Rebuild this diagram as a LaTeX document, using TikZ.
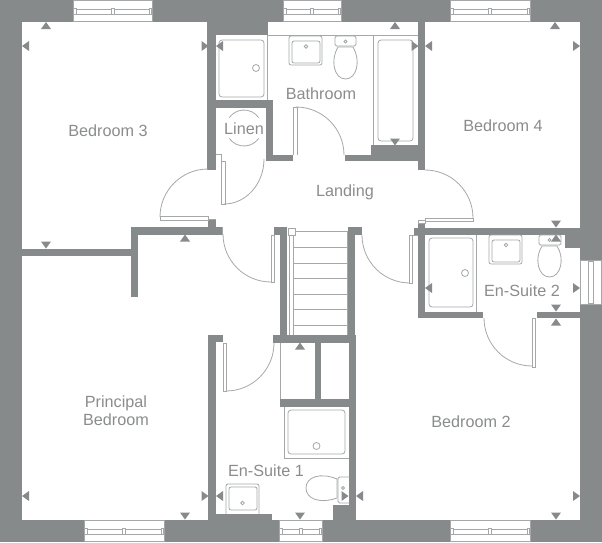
\documentclass[tikz,border=0pt]{standalone}
\usepackage{fontspec}
\setmainfont{Liberation Sans}
\definecolor{myw}{RGB}{135, 138, 139}
\definecolor{myl}{RGB}{165, 167, 168}
\definecolor{myt}{RGB}{138, 140, 141}
\tikzset{
	wall/.style={fill=myw,draw=none},
	thin line/.style={draw=myl,line width=.8pt},
	roomlabel/.style={font=\fontsize{16.2}{17.5}\selectfont,text=myt,align=center,inner sep=0pt},
	glass/.style={fill=white,draw=myl,line width=.8pt}
}
\begin{document}
\begin{tikzpicture}[x=1pt,y=-1pt]
			\useasboundingbox (0,0) rectangle (602,542);
			% outer walls
			\fill[wall] (0,0) rectangle (602,22);
			\fill[wall] (0,0) rectangle (22,542);
			\fill[wall] (580,0) rectangle (602,542);
			\fill[wall] (0,520) rectangle (602,542);
			\fill[wall] (207,22) rectangle (268,35);
			% inner walls
			\foreach \xa/\ya/\xb/\yb in {
				207/35/216/170, 207/100/273/108, 266/100/273/161, 266/155/293/161,
				345/155/425/161, 371/145/425/161, 418/22/425/170,
				22/249/131/256, 131/227/222/235, 131/227/138/297, 208/219/216/235,
				274/227/287/235, 280/227/287/342, 348/227/362/235, 348/227/355/342,
				273/335/356/343, 315/343/321/400, 280/399/356/407, 349/343/356/520,
				208/335/216/520, 208/335/223/342, 208/514/272/520, 333/505/356/520,
				414/228/580/235, 418/223/425/318, 565/228/580/248, 418/312/483/318, 537/312/580/318
			}
				\fill[wall] (\xa,\ya) rectangle (\xb,\yb);
			% windows
			\foreach \xa/\xb/\ya in {73/152/0, 283/341/0, 450/530/0, 84/164/520, 279/322/520, 450/530/520} {
				\path[glass] (\xa,\ya+.5) rectangle (\xb,\ya+21.5);
				\draw[thin line] (\xa+2,\ya+9) rectangle (\xb-2,\ya+14);
				\draw[thin line,fill=white] (\xa+.5,\ya+8.5) rectangle (\xa+3,\ya+14.5);
				\draw[thin line,fill=white] ({(\xa+\xb)/2-1.5},\ya+8.5) rectangle ({(\xa+\xb)/2+1.5},\ya+14.5);
				\draw[thin line,fill=white] (\xb-3,\ya+8.5) rectangle (\xb-.5,\ya+14.5);
			}
			\path[glass] (580.5,260) rectangle (601.5,304);
			\draw[thin line] (588,261) rectangle (593,303);
			% doors
			\draw[thin line] (160,217) arc[start angle=180,end angle=90,radius=48pt];
			\draw[thin line] (160,216) rectangle (208,220) (208,219) -- (216,219);
			\draw[thin line] (224,204) arc[start angle=270,end angle=360,x radius=40pt,y radius=45pt];
			\draw[thin line] (221,161) rectangle (225,204) (216,154) -- (221,154) -- (221,161);
			\draw[thin line] (296,107) arc[start angle=90,end angle=0,radius=48pt];
			\draw[thin line] (293,155) -- (293,107) -- (297,107) -- (297,155);
			\draw[thin line] (223,234) arc[start angle=180,end angle=270,radius=48pt];
			\draw[thin line] (271,282) rectangle (274,235) (222,227) -- (222,235);
			\draw[thin line] (362,235) arc[start angle=180,end angle=270,radius=48pt];
			\draw[thin line] (409.5,283) rectangle (412.5,235) (412.5,235) -- (418,235);
			\draw[thin line] (425,170) arc[start angle=90,end angle=0,radius=48pt];
			\draw[thin line] (425,218) rectangle (473,221) (418,220) rectangle (425,223);
			\draw[thin line] (484,318) arc[start angle=180,end angle=270,radius=48pt];
			\draw[thin line] (532,318) rectangle (535,367);
			\draw[thin line] (226,391) arc[start angle=270,end angle=360,radius=48pt];
			\draw[thin line] (223,343) rectangle (226,391);
			% stairs
			\foreach \y in {231,247,263,278,294,309,325}
				\draw[thin line] (294,\y) -- (347,\y);
			\draw[thin line] (289.5,235) -- (289.5,335) (293.5,235) -- (293.5,335) (347,231) -- (347,335);
			\draw[thin line,fill=white] (288,228) rectangle (295,235);
			\draw[thin line] (280,343) -- (280,399);
			% bathroom
			\draw[thin line] (268,35.5) -- (418,35.5) (267.5,35) -- (267.5,100);
			\draw[thin line,rounded corners=3pt] (219,40) rectangle (264,97);
			\draw[thin line] (256,68) circle[radius=3.5pt];
			\draw[thin line,rounded corners=2pt] (289,36) rectangle (322,65);
			\draw[thin line,rounded corners=2pt] (292,41) rectangle (320,63);
			\draw[thin line] (306,46.5) circle[radius=1.8pt];
			\draw[thin line,rounded corners=1.5pt] (335,36) rectangle (356,46);
			\draw[thin line] (345.5,41.5) circle[radius=1.5pt];
			\draw[thin line] (338,47) .. controls (330,60) and (334,79) .. (345.5,79) .. controls (357,79) and (361,60) .. (353,47) -- cycle;
			\draw[thin line] (373.5,145) -- (373.5,36);
			\draw[thin line,rounded corners=3pt] (378,40) rectangle (413,141);
			% linen
			\draw[thin line] (244,128) ++(35:18pt) arc[start angle=35,end angle=145,radius=18pt];
			\draw[thin line] (244,128) ++(215:18pt) arc[start angle=215,end angle=325,radius=18pt];
			% en-suite 2
			\draw[thin line] (476.5,235) -- (476.5,312);
			\draw[thin line,rounded corners=3pt] (429,238) rectangle (473,307);
			\draw[thin line] (465,273) circle[radius=3.5pt];
			\draw[thin line,rounded corners=2pt] (489,235) rectangle (522,264);
			\draw[thin line,rounded corners=2pt] (492,240) rectangle (520,262);
			\draw[thin line] (506,245) circle[radius=1.8pt];
			\draw[thin line,rounded corners=1.5pt] (539,235) rectangle (561,245);
			\draw[thin line] (549.5,240) circle[radius=1.5pt];
			\draw[thin line] (542,246) .. controls (534,258) and (538,277) .. (549.5,277) .. controls (561,277) and (565,258) .. (557,246) -- cycle;
			% en-suite 1
			\draw[thin line] (284,407) -- (284,458) -- (349,458);
			\draw[thin line,rounded corners=3pt] (288,410) rectangle (345,454);
			\draw[thin line] (316.5,446) circle[radius=3.5pt];
			\draw[thin line,rounded corners=2pt] (226,514) -- (226,484) -- (259,484) -- (259,514);
			\draw[thin line,rounded corners=2pt] (229,487) rectangle (257,510);
			\draw[thin line] (242.5,503) circle[radius=1.8pt];
			\draw[thin line] (337,479) .. controls (320,472) and (306,477) .. (306,488) .. controls (306,499) and (320,504) .. (337,498) -- cycle;
			\draw[thin line,rounded corners=1.5pt] (349,477) -- (338,477) -- (338,503) -- (349,503);
			\draw[thin line] (343,488) circle[radius=1.5pt];
			% markers
			\foreach \x/\y/\a in {
				46/25.5/90, 25.5/46/180, 46/245/270, 185/238/90, 205/46/0, 219.5/46/180,
				395/25.5/90, 415/46/0, 428.5/46/180, 395/142/270,
				555/25.5/90, 576.5/46/0, 556/224/270, 556/238/90,
				428.5/288/180, 576.5/288/0, 556/308/270, 556/322/90,
				359.5/496/180, 576.5/496/0, 556/516/270,
				25.5/496/180, 205/496/0, 219.5/496/180, 185/516/270,
				345/496/0, 300/516/270, 300/346/90
			}
				\fill[myw,shift={(\x,\y)},rotate=\a] (3.5,0) -- (-3.5,-5) -- (-3.5,5) -- cycle;
			% labels
			\node[roomlabel] (bed3) at (108,131) {Bedroom 3};
			\node[roomlabel] (bath) at (321,94) {Bathroom};
			\node[roomlabel] (linen) at (244,128.5) {Linen};
			\node[roomlabel] (bed4) at (503,126) {Bedroom 4};
			\node[roomlabel] (land) at (345,192.5) {Landing};
			\node[roomlabel] (ens2) at (522,290.5) {En-Suite 2};
			\node[roomlabel] (main) at (116,410.5) {Principal\\Bedroom};
			\node[roomlabel] (bed2) at (471,422) {Bedroom 2};
			\node[roomlabel] (ens1) at (266,470.5) {En-Suite 1};
		\end{tikzpicture}
\end{document}
